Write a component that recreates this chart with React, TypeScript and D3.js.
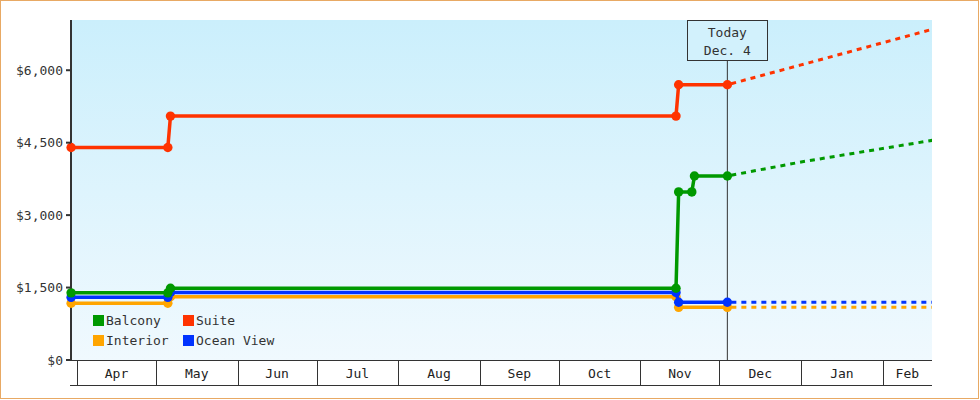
import React from "react";
import * as d3 from "d3";

const seriesNames = ["Balcony", "Suite", "Interior", "Ocean View"];
const seriesColors = ["#009900", "#ff3300", "#ffa500", "#0033ff"];

const baseDates = [
  "2023-03-29T18:00",
  "2023-05-05T12:00",
  "2023-05-06T12:00",
  "2023-11-14T12:00",
  "2023-11-15T12:00",
  "2023-12-04T00:00",
];
const balconyDates = [
  "2023-03-29T18:00",
  "2023-05-05T12:00",
  "2023-05-06T12:00",
  "2023-11-14T12:00",
  "2023-11-15T12:00",
  "2023-11-20T12:00",
  "2023-11-21T12:00",
  "2023-12-04T00:00",
];
const balconyValues = [1390, 1390, 1485, 1485, 3480, 3480, 3810, 3810];
const suiteValues = [4400, 4400, 5050, 5050, 5700, 5700];
const interiorValues = [1175, 1175, 1310, 1310, 1090, 1090];
const oceanValues = [1297, 1297, 1400, 1400, 1195, 1195];

const projDates = ["2023-12-04T00:00", "2024-01-01T00:00", "2024-02-20T00:00"];
const balconyProj = [3810, 4100, 4550];
const suiteProj = [5700, 6110, 6850];
const interiorProj = [1090, 1090, 1090];
const oceanProj = [1195, 1195, 1195];

const yTicks = [0, 1500, 3000, 4500, 6000];
const todayDate = "2023-12-04T00:00";
const todayLabel = ["Today", "Dec. 4"];

const FONT = "'DejaVu Sans Mono', 'Liberation Mono', monospace";

export default function App() {
  const W = 980;
  const H = 400;
  const left = 71;
  const right = 932;
  const top = 20;
  const bottom = 360;
  const bandBottom = 385;

  const x = d3
    .scaleTime()
    .domain([new Date(2023, 3, 1), new Date(2024, 1, 1)])
    .range([77, 882.7]);
  const y = d3.scaleLinear().domain([0, 7040]).range([bottom, top]);

  const mk = (dates: string[], vals: number[]) =>
    dates.map((d, i) => ({ date: new Date(d), value: vals[i] }));

  const series = [
    { name: "Interior", color: seriesColors[2], solid: mk(baseDates, interiorValues), proj: mk(projDates, interiorProj) },
    { name: "Ocean View", color: seriesColors[3], solid: mk(baseDates, oceanValues), proj: mk(projDates, oceanProj) },
    { name: "Balcony", color: seriesColors[0], solid: mk(balconyDates, balconyValues), proj: mk(projDates, balconyProj) },
    { name: "Suite", color: seriesColors[1], solid: mk(baseDates, suiteValues), proj: mk(projDates, suiteProj) },
  ];

  const line = d3
    .line<{ date: Date; value: number }>()
    .x((d) => x(d.date))
    .y((d) => y(d.value));

  const months = d3.timeMonth.range(x.invert(left), x.invert(right));
  const fmtMonth = d3.timeFormat("%b");
  const fmtY = (v: number) => "$" + d3.format(",")(v);
  const tx = x(new Date(todayDate));

  const legendPos = [
    { x: 93, y: 315 },
    { x: 183, y: 315 },
    { x: 93, y: 335 },
    { x: 183, y: 335 },
  ];

  return (
    <svg
      width={W}
      height={H}
      style={{ position: "absolute", left: 0, top: 0, display: "block" }}
      fontFamily={FONT}
    >
      <defs>
        <linearGradient id="bg" x1="0" y1="0" x2="0" y2="1">
          <stop offset="0%" stopColor="#cbeffc" />
          <stop offset="100%" stopColor="#f0f9fe" />
        </linearGradient>
        <clipPath id="plot">
          <rect x={left - 6} y={top - 6} width={right - left + 6} height={bottom - top + 12} />
        </clipPath>
      </defs>
      <rect x={0} y={0} width={W} height={H} fill="#ffffff" />
      <rect x={0.5} y={0.5} width={978} height={398} fill="none" stroke="#e8a964" strokeWidth={1} />
      <rect x={left} y={top} width={right - left} height={bottom - top} fill="url(#bg)" />

      {/* today line */}
      <line x1={tx} x2={tx} y1={60} y2={bottom} stroke="#333" strokeWidth={1} />

      {/* y axis line */}
      <line x1={left} x2={left} y1={top} y2={bottom} stroke="#333" strokeWidth={2} />

      <g clipPath="url(#plot)">
        {series.map((s) => (
          <g key={s.name}>
            <path
              d={line(s.proj) || ""}
              fill="none"
              stroke={s.color}
              strokeWidth={3}
              strokeDasharray="5,5"
              strokeDashoffset={-4}
            />
            <path d={line(s.solid) || ""} fill="none" stroke={s.color} strokeWidth={3.5} />
            {s.solid.map((d, i) => (
              <circle key={i} cx={x(d.date)} cy={y(d.value)} r={4.7} fill={s.color} />
            ))}
          </g>
        ))}
      </g>

      {/* today box */}
      <rect x={687.5} y={20.5} width={80} height={40} fill="#d2f1fc" stroke="#333" strokeWidth={1} />
      <text x={tx} y={37} textAnchor="middle" fontSize={13} fill="#333">
        {todayLabel[0]}
      </text>
      <text x={tx} y={55} textAnchor="middle" fontSize={13} fill="#333">
        {todayLabel[1]}
      </text>

      {/* y ticks */}
      {yTicks.map((t) => (
        <g key={t}>
          <line x1={66} x2={left} y1={y(t)} y2={y(t)} stroke="#333" strokeWidth={2} />
          <text x={63} y={y(t) + 4.5} textAnchor="end" fontSize={13} fill="#333">
            {fmtY(t)}
          </text>
        </g>
      ))}

      {/* x month band */}
      <line x1={66} x2={right} y1={bottom + 0.5} y2={bottom + 0.5} stroke="#333" strokeWidth={1} />
      <line x1={70} x2={right} y1={bandBottom + 0.5} y2={bandBottom + 0.5} stroke="#333" strokeWidth={1} />
      {months.map((m, i) => {
        const x0 = x(m);
        const x1 = i < months.length - 1 ? x(months[i + 1]) : right;
        return (
          <g key={i}>
            <line
              x1={Math.round(x0) + 0.5}
              x2={Math.round(x0) + 0.5}
              y1={bottom}
              y2={bandBottom}
              stroke="#333"
              strokeWidth={1}
            />
            <text x={(x0 + x1) / 2} y={378} textAnchor="middle" fontSize={13} fill="#222">
              {fmtMonth(m)}
            </text>
          </g>
        );
      })}

      {/* legend */}
      {seriesNames.map((n, i) => (
        <g key={n}>
          <rect x={legendPos[i].x} y={legendPos[i].y} width={11} height={11} fill={seriesColors[i]} />
          <text x={legendPos[i].x + 13} y={legendPos[i].y + 10} fontSize={13} fill="#333">
            {n}
          </text>
        </g>
      ))}
    </svg>
  );
}
